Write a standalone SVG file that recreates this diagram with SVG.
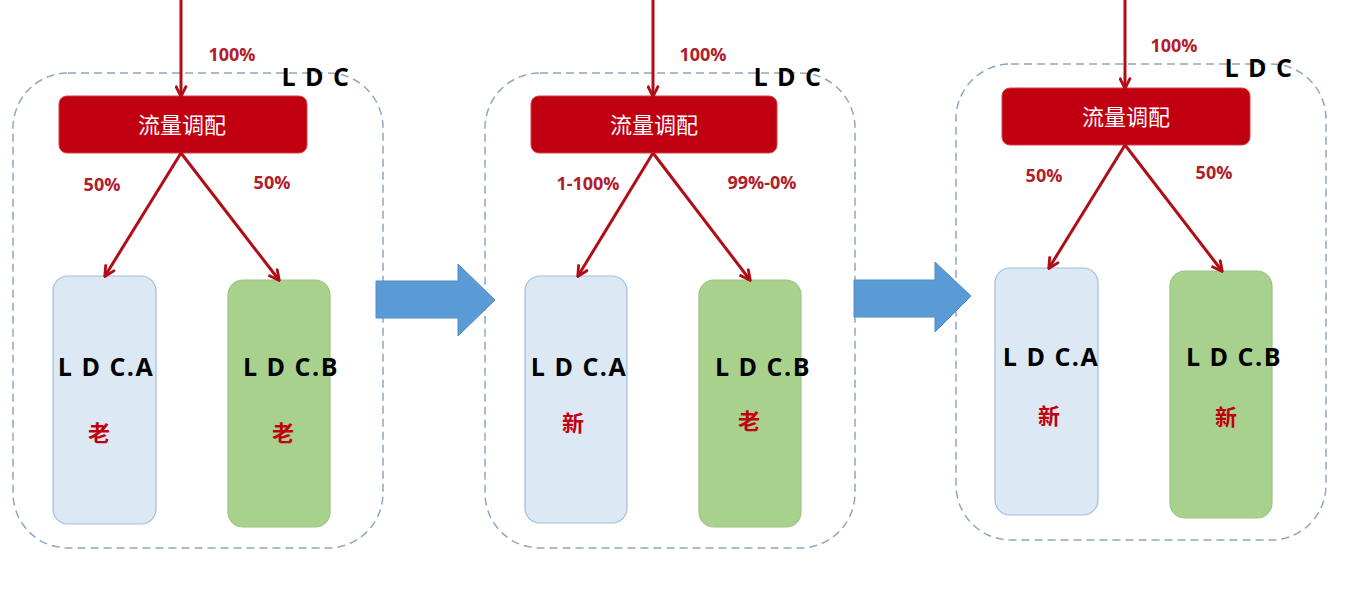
<svg xmlns="http://www.w3.org/2000/svg" width="1364" height="594" viewBox="0 0 1364 594">
<defs>
<marker id="ah" viewBox="0 0 12 12" refX="10.5" refY="6" markerWidth="13" markerHeight="13" markerUnits="userSpaceOnUse" orient="auto">
<path d="M1,1 L11,6 L1,11" fill="none" stroke="#b00d16" stroke-width="2.6"/>
</marker>
</defs>
<style>
.frame{fill:none;stroke:#8fa8bf;stroke-width:1.5;stroke-dasharray:8 5}
.disp{fill:#c00010;stroke:#d04040;stroke-width:1}
.disptxt{font-family:"Noto Sans CJK SC","Noto Sans",sans-serif;font-size:22px;fill:#ffffff;text-anchor:middle}
.na{fill:#dde8f5;stroke:#9fbfdd;stroke-width:1.2}
.nb{fill:#a9d18e;stroke:#9cc383;stroke-width:1.2}
.ldc{font-family:"Open Sans","Noto Sans",sans-serif;font-weight:bold;font-size:25px;letter-spacing:1.5px;fill:#000;text-anchor:middle}
.pct{font-family:"Open Sans","Noto Sans",sans-serif;font-weight:bold;font-size:18px;fill:#b0202a;text-anchor:middle}
.ver{font-family:"Noto Sans CJK SC",sans-serif;font-weight:bold;font-size:22px;fill:#c00010;text-anchor:middle}
.flow{stroke:#b00d16;stroke-width:3;fill:none;marker-end:url(#ah)}
.big{fill:#5b9bd5;stroke:#4f8cc4;stroke-width:1}
</style>

<!-- Panel 1 -->
<g id="panel1">
<rect class="frame" x="13" y="73" width="370" height="475" rx="55"/>
<text class="ldc" x="316" y="86">L D C</text>
</g>
<g id="dispatch1">
<rect class="disp" x="59" y="96" width="248" height="57" rx="8"/>
<text class="disptxt" x="182" y="133">流量调配</text>
</g>
<g id="ldcA1">
<rect class="na" x="53" y="276" width="103" height="248" rx="15"/>
<text class="ldc" x="106" y="376">L D C.A</text>
<text class="ver" x="99" y="441">老</text>
</g>
<g id="ldcB1">
<rect class="nb" x="228" y="280" width="102" height="247" rx="15"/>
<text class="ldc" x="291" y="376">L D C.B</text>
<text class="ver" x="283" y="441">老</text>
</g>

<!-- Panel 2 -->
<g id="panel2">
<rect class="frame" x="485" y="73" width="370" height="475" rx="55"/>
<text class="ldc" x="788" y="86">L D C</text>
</g>
<g id="dispatch2">
<rect class="disp" x="531" y="96" width="246" height="57" rx="8"/>
<text class="disptxt" x="654" y="133">流量调配</text>
</g>
<g id="ldcA2">
<rect class="na" x="525" y="276" width="102" height="247" rx="15"/>
<text class="ldc" x="579" y="376">L D C.A</text>
<text class="ver" x="573" y="431">新</text>
</g>
<g id="ldcB2">
<rect class="nb" x="699" y="280" width="102" height="247" rx="15"/>
<text class="ldc" x="763" y="376">L D C.B</text>
<text class="ver" x="749" y="429">老</text>
</g>

<!-- Panel 3 -->
<g id="panel3">
<rect class="frame" x="956" y="64" width="370" height="476" rx="55"/>
<text class="ldc" x="1259" y="77">L D C</text>
</g>
<g id="dispatch3">
<rect class="disp" x="1002" y="88" width="248" height="57" rx="8"/>
<text class="disptxt" x="1126" y="125">流量调配</text>
</g>
<g id="ldcA3">
<rect class="na" x="995" y="268" width="103" height="247" rx="15"/>
<text class="ldc" x="1051" y="366">L D C.A</text>
<text class="ver" x="1049" y="424">新</text>
</g>
<g id="ldcB3">
<rect class="nb" x="1170" y="271" width="102" height="247" rx="15"/>
<text class="ldc" x="1234" y="366">L D C.B</text>
<text class="ver" x="1226" y="425">新</text>
</g>

<!-- Transition arrows -->
<g id="step1">
<path class="big" d="M376,281 L458,281 L458,264 L495,300 L458,336 L458,318 L376,318 Z"/>
</g>
<g id="step2">
<path class="big" d="M854,280 L935,280 L935,262 L971,296 L935,332 L935,317 L854,317 Z"/>
</g>

<g id="connectors">
<line class="flow" x1="181" y1="0" x2="181" y2="96"/>
<line class="flow" x1="181" y1="153" x2="105" y2="276"/>
<line class="flow" x1="181" y1="153" x2="279" y2="280"/>
<line class="flow" x1="653" y1="0" x2="653" y2="96"/>
<line class="flow" x1="653" y1="153" x2="578" y2="276"/>
<line class="flow" x1="653" y1="153" x2="750" y2="280"/>
<line class="flow" x1="1125" y1="0" x2="1125" y2="88"/>
<line class="flow" x1="1125" y1="145" x2="1049" y2="268"/>
<line class="flow" x1="1125" y1="145" x2="1222" y2="271"/>
<text class="pct" x="232" y="61">100%</text>
<text class="pct" x="102" y="191">50%</text>
<text class="pct" x="272" y="189">50%</text>
<text class="pct" x="703" y="61">100%</text>
<text class="pct" x="588" y="190">1-100%</text>
<text class="pct" x="762" y="189">99%-0%</text>
<text class="pct" x="1174" y="52">100%</text>
<text class="pct" x="1044" y="182">50%</text>
<text class="pct" x="1214" y="179">50%</text>
</g>
</svg>
